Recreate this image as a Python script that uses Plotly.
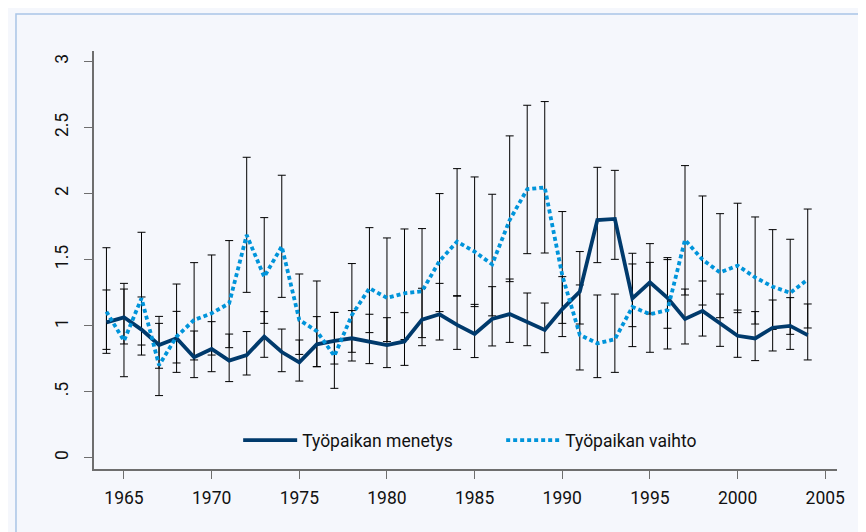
import plotly.graph_objects as go

years = list(range(1964, 2005))

menetys = [1.025, 1.063, 0.97, 0.853, 0.904, 0.76, 0.823, 0.735, 0.777, 0.917,
           0.80, 0.722, 0.858, 0.885, 0.904, 0.879, 0.853, 0.88, 1.045, 1.086,
           1.005, 0.937, 1.05, 1.088, 1.03, 0.967, 1.125, 1.258, 1.80, 1.808,
           1.207, 1.328, 1.21, 1.05, 1.112, 1.02, 0.923, 0.903, 0.984, 0.998, 0.928]
menetys_lo = [0.82, 0.861, 0.777, 0.677, 0.717, 0.606, 0.651, 0.576, 0.626, 0.76,
              0.651, 0.58, 0.689, 0.709, 0.732, 0.712, 0.682, 0.699, 0.848, 0.891,
              0.82, 0.758, 0.846, 0.873, 0.848, 0.795, 0.917, 1.012, 1.477, 1.502,
              0.992, 1.088, 0.98, 0.861, 0.921, 0.843, 0.76, 0.735, 0.808, 0.82, 0.74]
menetys_hi = [1.27, 1.32, 1.217, 1.07, 1.108, 0.959, 1.03, 0.936, 0.955, 1.106,
              0.974, 0.891, 1.068, 1.10, 1.114, 1.086, 1.06, 1.098, 1.283, 1.32,
              1.227, 1.161, 1.295, 1.353, 1.247, 1.171, 1.371, 1.561, 2.199, 2.176,
              1.467, 1.621, 1.50, 1.277, 1.338, 1.239, 1.118, 1.106, 1.194, 1.212, 1.164]

vaihto = [1.106, 0.885, 1.207, 0.70, 0.917, 1.043, 1.093, 1.169, 1.686, 1.37,
          1.60, 1.043, 0.958, 0.77, 1.08, 1.283, 1.21, 1.245, 1.26, 1.49,
          1.636, 1.56, 1.464, 1.80, 2.033, 2.047, 1.38, 0.93, 0.865, 0.897,
          1.142, 1.086, 1.117, 1.65, 1.50, 1.402, 1.455, 1.365, 1.295, 1.248, 1.35]
vaihto_lo = [0.79, 0.613, 0.853, 0.47, 0.646, 0.74, 0.777, 0.833, 1.252, 1.017,
             1.214, 0.782, 0.689, 0.525, 0.798, 0.947, 0.879, 0.895, 0.909, 1.106,
             1.223, 1.144, 1.074, 1.333, 1.545, 1.55, 1.017, 0.664, 0.606, 0.646,
             0.841, 0.798, 0.823, 1.232, 1.156, 1.06, 1.098, 1.012, 0.971, 0.934, 0.982]
vaihto_hi = [1.59, 1.277, 1.707, 1.017, 1.315, 1.477, 1.535, 1.644, 2.275, 1.818,
             2.139, 1.391, 1.338, 1.10, 1.47, 1.742, 1.664, 1.732, 1.735, 2.0,
             2.189, 2.126, 1.995, 2.437, 2.669, 2.697, 1.864, 1.308, 1.232, 1.239,
             1.548, 1.479, 1.515, 2.212, 1.982, 1.848, 1.927, 1.823, 1.727, 1.654, 1.883]

x_ticks = [1965, 1970, 1975, 1980, 1985, 1990, 1995, 2000, 2005]
y_ticks = [0, 0.5, 1, 1.5, 2, 2.5, 3]
y_ticktext = ["0", ".5", "1", "1.5", "2", "2.5", "3"]

names = ["Työpaikan menetys", "Työpaikan vaihto"]

NAVY = "#003A6C"
BLUE = "#0094DA"
BG = "#F5F7FC"
FONT = "Roboto, sans-serif"
FS = 17.5

fig = go.Figure()

for vals, lo, hi in [(vaihto, vaihto_lo, vaihto_hi), (menetys, menetys_lo, menetys_hi)]:
    fig.add_trace(go.Scatter(
        x=years, y=vals, mode="markers",
        marker=dict(size=1, opacity=0),
        error_y=dict(type="data", symmetric=False,
                     array=[h - v for h, v in zip(hi, vals)],
                     arrayminus=[v - l for v, l in zip(vals, lo)],
                     color="#000000", thickness=1, width=4),
        showlegend=False, hoverinfo="skip"))

fig.add_trace(go.Scatter(x=years, y=menetys, mode="lines", name=names[0],
                         line=dict(color=NAVY, width=3.8)))
fig.add_trace(go.Scatter(x=years, y=vaihto, mode="lines", name=names[1],
                         line=dict(color=BLUE, width=3.8, dash="4px,3px")))

axis_common = dict(showgrid=False, zeroline=False, showline=True, linecolor="#6e6e6e",
                   linewidth=2, ticks="outside", ticklen=8, tickcolor="#6e6e6e",
                   tickwidth=1.2,
                   tickfont=dict(family=FONT, size=FS, color="#111111"))

fig.update_layout(
    width=866, height=532,
    margin=dict(l=86, r=37, t=43, b=71),
    paper_bgcolor=BG, plot_bgcolor=BG,
    xaxis=dict(range=[1963.29, 2005.67], tickvals=x_ticks, ticklabelstandoff=4,
               **axis_common),
    yaxis=dict(range=[-0.086, 3.08], tickvals=y_ticks, ticktext=y_ticktext,
               tickangle=-90, ticklabelstandoff=9, **axis_common),
    legend=dict(orientation="h", x=0.548, xanchor="center", y=0.069, yanchor="middle",
                bgcolor="rgba(0,0,0,0)", font=dict(family=FONT, size=FS, color="#111111"),
                itemwidth=54, entrywidth=194, entrywidthmode="pixels"),
    shapes=[dict(type="rect", xref="paper", yref="paper",
                 x0=-0.105, x1=1.2, y0=-0.3, y1=1.0885,
                 line=dict(color="#A9C5E6", width=1.5), fillcolor="rgba(0,0,0,0)",
                 layer="below")],
)

fig.write_html("out.html")
